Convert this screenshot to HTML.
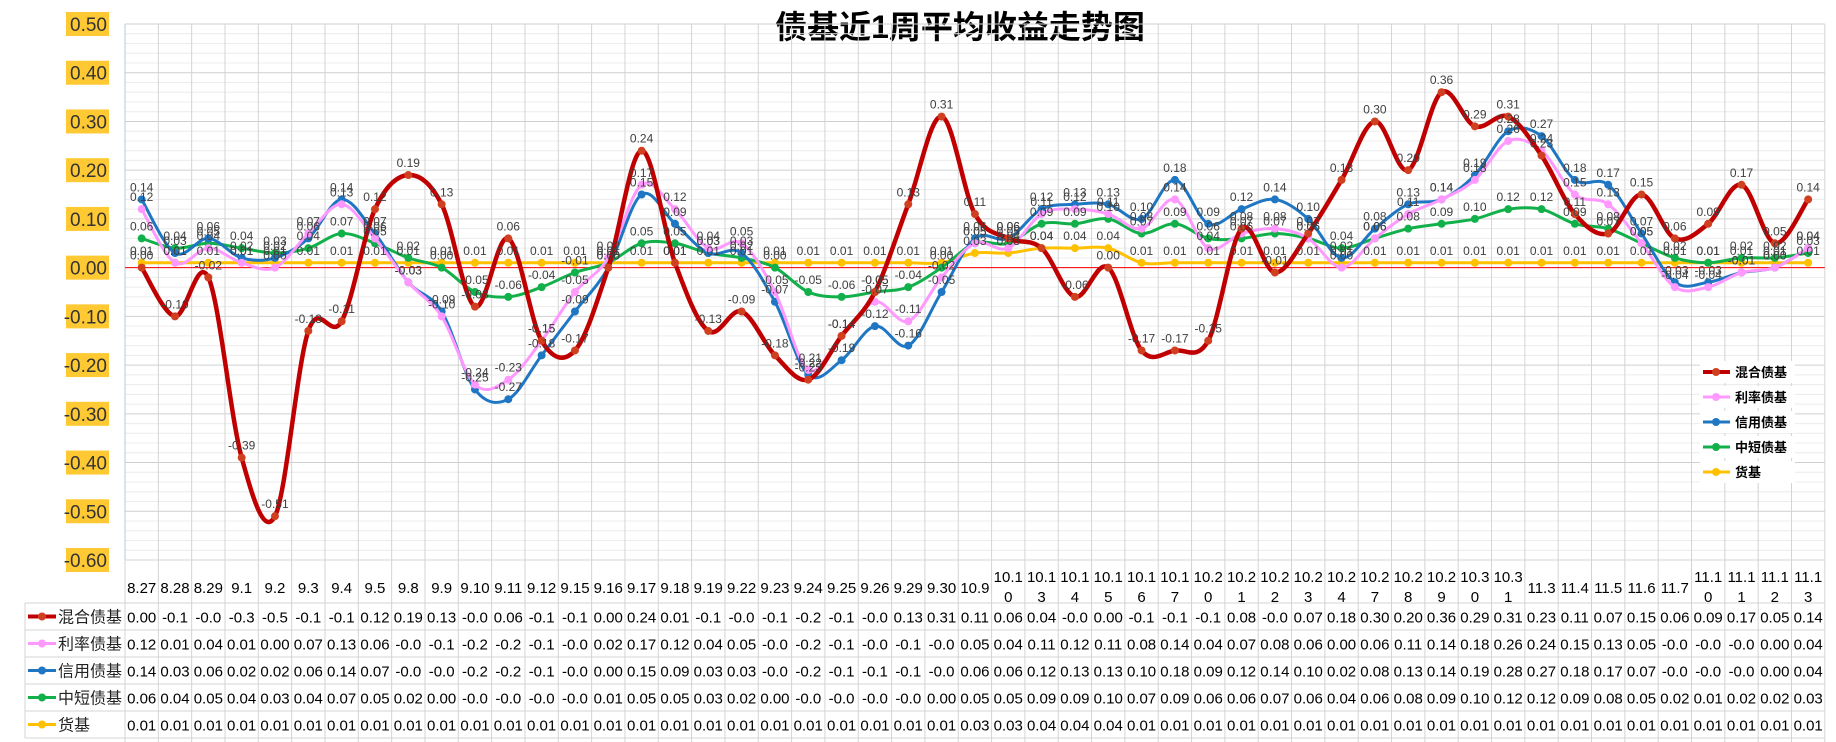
<!DOCTYPE html>
<html><head><meta charset="utf-8"><style>
html,body{margin:0;padding:0;background:#fff;}
svg{display:block;font-family:"Liberation Sans","Noto Sans CJK SC",sans-serif;}
</style></head><body>
<svg id="chart" width="1836" height="742" viewBox="0 0 1836 742" xmlns="http://www.w3.org/2000/svg">
<text x="960" y="38" text-anchor="middle" font-size="32" font-weight="bold" fill="#000" font-family="'Liberation Sans','Noto Sans CJK SC',sans-serif">债基近1周平均收益走势图</text>
<g id="grid"></g><g id="yaxis"></g><g id="series"></g><g id="labels"></g><g id="table"></g><g id="legend"></g>
</svg>
<script>
const categories=["8.27","8.28","8.29","9.1","9.2","9.3","9.4","9.5","9.8","9.9","9.10","9.11","9.12","9.15","9.16","9.17","9.18","9.19","9.22","9.23","9.24","9.25","9.26","9.29","9.30","10.9","10.10","10.13","10.14","10.15","10.16","10.17","10.20","10.21","10.22","10.23","10.24","10.27","10.28","10.29","10.30","10.31","11.3","11.4","11.5","11.6","11.7","11.10","11.11","11.12","11.13"];
const mixed=[0.00,-0.10,-0.02,-0.39,-0.51,-0.13,-0.11,0.12,0.19,0.13,-0.08,0.06,-0.15,-0.17,0.00,0.24,0.01,-0.13,-0.09,-0.18,-0.23,-0.14,-0.05,0.13,0.31,0.11,0.06,0.04,-0.06,0.00,-0.17,-0.17,-0.15,0.08,-0.01,0.07,0.18,0.30,0.20,0.36,0.29,0.31,0.23,0.11,0.07,0.15,0.06,0.09,0.17,0.05,0.14];
const rate=[0.12,0.01,0.04,0.01,0.00,0.07,0.13,0.06,-0.03,-0.10,-0.24,-0.23,-0.15,-0.05,0.02,0.17,0.12,0.04,0.05,-0.05,-0.21,-0.14,-0.07,-0.11,-0.02,0.05,0.04,0.11,0.12,0.11,0.08,0.14,0.04,0.07,0.08,0.06,0.00,0.06,0.11,0.14,0.18,0.26,0.24,0.15,0.13,0.05,-0.04,-0.04,-0.01,0.00,0.04];
const credit=[0.14,0.03,0.06,0.02,0.02,0.06,0.14,0.07,-0.03,-0.09,-0.25,-0.27,-0.18,-0.09,0.00,0.15,0.09,0.03,0.03,-0.07,-0.22,-0.19,-0.12,-0.16,-0.05,0.06,0.06,0.12,0.13,0.13,0.10,0.18,0.09,0.12,0.14,0.10,0.02,0.08,0.13,0.14,0.19,0.28,0.27,0.18,0.17,0.07,-0.03,-0.03,-0.01,0.00,0.04];
const shortTerm=[0.06,0.04,0.05,0.04,0.03,0.04,0.07,0.05,0.02,0.00,-0.05,-0.06,-0.04,-0.01,0.01,0.05,0.05,0.03,0.02,0.00,-0.05,-0.06,-0.05,-0.04,0.00,0.05,0.05,0.09,0.09,0.10,0.07,0.09,0.06,0.06,0.07,0.06,0.04,0.06,0.08,0.09,0.10,0.12,0.12,0.09,0.08,0.05,0.02,0.01,0.02,0.02,0.03];
const money=[0.01,0.01,0.01,0.01,0.01,0.01,0.01,0.01,0.01,0.01,0.01,0.01,0.01,0.01,0.01,0.01,0.01,0.01,0.01,0.01,0.01,0.01,0.01,0.01,0.01,0.03,0.03,0.04,0.04,0.04,0.01,0.01,0.01,0.01,0.01,0.01,0.01,0.01,0.01,0.01,0.01,0.01,0.01,0.01,0.01,0.01,0.01,0.01,0.01,0.01,0.01];
const seriesNames=["混合债基","利率债基","信用债基","中短债基","货基"];
const yTicks=[0.5,0.4,0.3,0.2,0.1,0,-0.1,-0.2,-0.3,-0.4,-0.5,-0.6];

const NS="http://www.w3.org/2000/svg";
const L=125,CW=33.33,TOP=24,BOT=560,YMAX=0.5,YMIN=-0.6;
const n=categories.length,R=L+CW*n;
function x(i){return L+CW*(i+0.5);}
function y(v){return TOP+(YMAX-v)/(YMAX-YMIN)*(BOT-TOP);}
function mk(tag,attrs,parent){const e=document.createElementNS(NS,tag);for(const k in attrs)e.setAttribute(k,attrs[k]);parent.appendChild(e);return e;}
const grid=document.getElementById('grid');
for(let v=YMIN;v<=YMAX+1e-9;v+=0.02){
  const major=Math.abs(Math.round(v*50)%5)===0;
  const ln=mk('line',{x1:L,x2:R,y1:y(v),y2:y(v),stroke:major?'#d0d0d0':'#ececec','stroke-width':1},grid);
  
  
}
for(let i=0;i<=n;i++){
  const ln=mk('line',{x1:L+CW*i,x2:L+CW*i,y1:TOP,y2:742,stroke:'#d4d4d4','stroke-width':1},grid);
  
  
}
mk('line',{x1:L,x2:L,y1:TOP,y2:BOT,stroke:'#b4c7dc','stroke-width':1},grid);
const zl=mk('line',{x1:L,x2:R,y1:y(0),y2:y(0),stroke:'#ff0000','stroke-width':1},grid);


const ya=document.getElementById('yaxis');
yTicks.forEach(v=>{
  const r=mk('rect',{x:66,y:y(v)-12,width:43,height:24,fill:'#ffc933'},ya);
  
  
  const t=mk('text',{x:107,y:y(v)+7,'text-anchor':'end','font-size':19,fill:'#333'},ya);
  t.textContent=v.toFixed(2);
  
  
});
const colors=["#c00000","#ff99ff","#1f77c4","#12b04a","#ffc000"];
const markerFill=["#d04020","#ff99ff","#1f77c4","#12b04a","#ffc000"];
const widths=[4.5,3,3,3,3];
const allData=[mixed,rate,credit,shortTerm,money];
function path(d){
  const p=d.map((v,i)=>[x(i),y(v)]);let s='M'+p[0][0]+','+p[0][1];
  for(let i=0;i<p.length-1;i++){
    const p0=p[i-1]||p[i],p1=p[i],p2=p[i+1],p3=p[i+2]||p2,t=6;
    s+=' C'+(p1[0]+(p2[0]-p0[0])/t)+','+(p1[1]+(p2[1]-p0[1])/t)+' '+(p2[0]-(p3[0]-p1[0])/t)+','+(p2[1]-(p3[1]-p1[1])/t)+' '+p2[0]+','+p2[1];
  }
  return s;
}
const sg=document.getElementById('series'),lg=document.getElementById('labels');
[4,3,2,1,0].forEach(k=>{
  const d=allData[k];
  const p=mk('path',{d:path(d),fill:'none',stroke:colors[k],'stroke-width':widths[k]},sg);
  
  
  d.forEach((v,i)=>{
    const c=mk('circle',{cx:x(i),cy:y(v),r:4,fill:markerFill[k]},sg);
    
    
    const t=mk('text',{x:x(i),y:y(v)-8,'text-anchor':'middle','font-size':12,fill:'#404040'},lg);
    t.textContent=v.toFixed(2);
    
    
  });
});
const tb=document.getElementById('table');
mk('line',{x1:L,x2:R,y1:BOT,y2:BOT,stroke:'#d4d4d4'},tb);
categories.forEach((c,i)=>{
  const long=c.length>4;
  const lines=long?[c.slice(0,4),c.slice(4)]:[c];
  lines.forEach((s,j)=>{
    const t=mk('text',{x:x(i),y:long?(582+j*20):593,'text-anchor':'middle','font-size':15,fill:'#000'},tb);
    t.textContent=s;
    
    
  });
});
const RT=603,RH=27;
for(let r=0;r<=5;r++){mk('line',{x1:r===5?25:25,x2:R,y1:RT+RH*r,y2:RT+RH*r,stroke:'#d4d4d4'},tb);}
mk('line',{x1:25,x2:25,y1:RT,y2:RT+RH*5,stroke:'#d4d4d4'},tb);
allData.forEach((d,k)=>{
  const cy=RT+RH*k+RH/2;
  mk('line',{x1:28,x2:56,y1:cy,y2:cy,stroke:colors[k],'stroke-width':k===0?4:3},tb);
  mk('circle',{cx:42,cy:cy,r:4,fill:markerFill[k]},tb);
  const nm=mk('text',{x:58,y:cy+6,'font-size':16,fill:'#222'},tb);
  nm.textContent=seriesNames[k];
  
  
  d.forEach((v,i)=>{
    const t=mk('text',{x:x(i),y:cy+6,'text-anchor':'middle','font-size':15,fill:'#000'},tb);
    t.textContent=v.toFixed(2).slice(0,4);
    
    
  });
});
const lgd=document.getElementById('legend');
seriesNames.forEach((s,k)=>{
  const cy=372+k*25;
  const g=mk('g',{},lgd);
  
  
  mk('rect',{x:1700,y:cy-11,width:95,height:22,fill:'#fff'},g);
  mk('line',{x1:1703,x2:1730,y1:cy,y2:cy,stroke:colors[k],'stroke-width':k===0?4:3},g);
  mk('circle',{cx:1716,cy:cy,r:4,fill:markerFill[k]},g);
  const t=mk('text',{x:1735,y:cy+5,'font-size':13,'font-weight':'bold',fill:'#000'},g);
  t.textContent=s;
});
</script>
</body></html>
